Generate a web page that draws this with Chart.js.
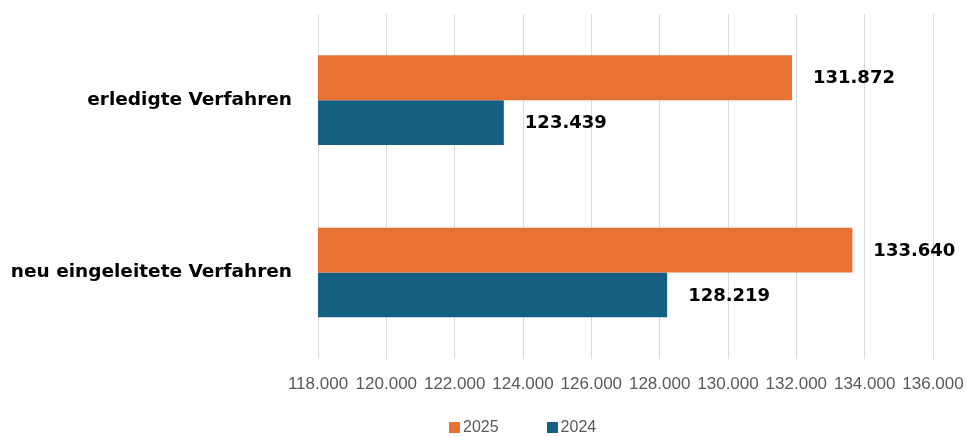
<!DOCTYPE html>
<html>
<head>
<meta charset="utf-8">
<script src="https://cdn.jsdelivr.net/npm/chart.js@4"></script>
<style>
  html, body { margin: 0; padding: 0; background: #fff; }
  #wrap { position: relative; width: 967px; height: 437px; }
  #legenda { position: absolute; top: 418px; left: 449px; font: 16px 'Liberation Sans', sans-serif; color: #595959; white-space: nowrap; }
  #legenda span.voce { display: inline-block; margin-right: 48px; }
  #legenda i { display: inline-block; width: 11px; height: 11px; margin-right: 3px; vertical-align: -1px; }
</style>
</head>
<body>
<div id="wrap"><canvas id="chart"></canvas><div id="legenda"></div></div>
<script>
// --- dati ---
const categorie = ['erledigte Verfahren', 'neu eingeleitete Verfahren'];
const anni = ['2025', '2024'];
const valori2025 = [131872, 133640];
const valori2024 = [123439, 128219];
const assePassi = [118000, 120000, 122000, 124000, 126000, 128000, 130000, 132000, 134000, 136000];

const ARANCIO = '#E97132';
const BLU = '#156082';

// 131872 -> "131.872"
function formatta(v) {
  return String(v).replace(/\B(?=(\d{3})+(?!\d))/g, '.');
}

// etichette valore a destra delle barre
const etichetteBarre = {
  id: 'etichetteBarre',
  afterDatasetsDraw(chart) {
    const ctx = chart.ctx;
    ctx.save();
    ctx.font = "bold 18px 'DejaVu Sans'";
    ctx.fillStyle = '#000';
    ctx.textAlign = 'left';
    ctx.textBaseline = 'middle';
    chart.data.datasets.forEach((ds, i) => {
      chart.getDatasetMeta(i).data.forEach((bar, j) => {
        ctx.fillText(formatta(ds.data[j]), bar.x + 21, bar.y + 1);
      });
    });
    ctx.restore();
  }
};

const grafico = new Chart(document.getElementById('chart'), {
  type: 'bar',
  data: {
    labels: categorie,
    datasets: [
      { label: anni[0], data: valori2025, backgroundColor: ARANCIO },
      { label: anni[1], data: valori2024, backgroundColor: BLU }
    ]
  },
  options: {
    indexAxis: 'y',
    responsive: true,
    maintainAspectRatio: false,
    animation: false,
    categoryPercentage: 0.52,
    barPercentage: 1.0,
    layout: { padding: { top: 14, left: 0, right: 0, bottom: 26 } },
    plugins: {
      legend: { display: false },
      tooltip: { enabled: false }
    },
    scales: {
      x: {
        min: assePassi[0],
        max: assePassi[assePassi.length - 1],
        afterBuildTicks: (scale) => { scale.ticks = assePassi.map(v => ({ value: v })); },
        afterFit: (scale) => { scale.paddingLeft = 0; scale.paddingRight = 34; },
        ticks: {
          color: '#595959',
          padding: 16,
          maxRotation: 0,
          autoSkip: false,
          font: { family: "'Liberation Sans'", size: 17 },
          callback: (v) => formatta(v)
        },
        grid: { color: '#d9d9d9', drawTicks: false },
        border: { display: false }
      },
      y: {
        afterFit: (scale) => { scale.width = 318; scale.paddingTop = 0; scale.paddingBottom = 0; },
        ticks: {
          color: '#000',
          padding: 26,
          font: { family: "'DejaVu Sans'", size: 18.5, weight: 'bold' }
        },
        grid: { display: false, drawTicks: false },
        border: { display: false }
      }
    }
  },
  plugins: [etichetteBarre]
});

// legenda HTML costruita dai dataset
document.getElementById('legenda').innerHTML = grafico.data.datasets
  .map(ds => `<span class="voce"><i style="background:${ds.backgroundColor}"></i>${ds.label}</span>`)
  .join('');
</script>
</body>
</html>
